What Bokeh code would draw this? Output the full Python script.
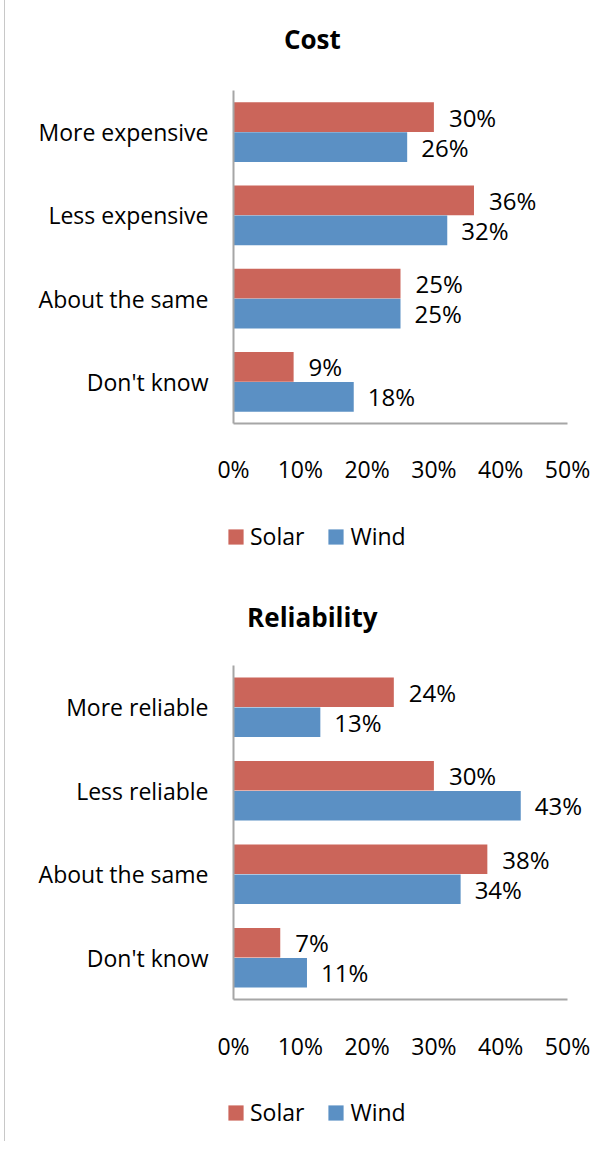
from bokeh.plotting import figure
from bokeh.models import (ColumnDataSource, Range1d, FixedTicker,
                          NumeralTickFormatter, Legend, LegendItem, Label)
from bokeh.layouts import column
from bokeh.embed import file_html
from bokeh.resources import INLINE
from bokeh.core.properties import value

cost_categories = ["More expensive", "Less expensive", "About the same", "Don't know"]
cost_solar = [30, 36, 25, 9]
cost_wind = [26, 32, 25, 18]

rel_categories = ["More reliable", "Less reliable", "About the same", "Don't know"]
rel_solar = [24, 30, 38, 7]
rel_wind = [13, 43, 34, 11]

x_ticks = [0, 10, 20, 30, 40, 50]
series_names = ["Solar", "Wind"]

RED = "#CB655A"
BLUE = "#5B90C4"
AXIS = "#A6A6A6"
FONT = "Open Sans"


def make_chart(title, cats, solar, wind, height, y_lo, y_hi, title_y, legend_y):
    n = len(cats)
    pos = [n - 1 - i for i in range(n)]  # first category on top
    src = ColumnDataSource(dict(
        pos=pos,
        ys=[p_ + 0.18 for p_ in pos],
        yw=[p_ - 0.18 for p_ in pos],
        solar=[v / 100 for v in solar],
        wind=[v / 100 for v in wind],
        solar_lbl=[f"{v}%" for v in solar],
        wind_lbl=[f"{v}%" for v in wind],
    ))
    p = figure(width=586, height=height, output_backend="svg", toolbar_location=None,
               x_range=Range1d(-0.3368, 0.5404), y_range=Range1d(y_lo, y_hi),
               min_border=0)
    p.outline_line_color = None
    p.grid.visible = False
    p.background_fill_color = "white"
    p.border_fill_color = "white"

    r1 = p.hbar(y="ys", right="solar", left=0, height=0.355, source=src,
                color=RED, line_color=None)
    r2 = p.hbar(y="yw", right="wind", left=0, height=0.355, source=src,
                color=BLUE, line_color=None)
    p.text(x="solar", y="ys", text="solar_lbl", source=src, x_offset=15,
           text_baseline="middle", text_font=value(FONT),
           text_font_size="24px", text_color="black")
    p.text(x="wind", y="yw", text="wind_lbl", source=src, x_offset=14,
           text_baseline="middle", text_font=value(FONT),
           text_font_size="24px", text_color="black")

    p.add_layout(Label(x=0.118, y=title_y, text=title, text_font=FONT,
                       text_font_size="26px", text_font_style="bold",
                       text_align="center", text_baseline="middle",
                       text_color="black"))

    xa = p.xaxis[0]
    xa.fixed_location = -0.5
    xa.bounds = (0, 0.5)
    xa.ticker = FixedTicker(ticks=[t / 100 for t in x_ticks])
    xa.formatter = NumeralTickFormatter(format="0%")
    xa.major_tick_line_color = None
    xa.minor_tick_line_color = None
    xa.axis_line_color = AXIS
    xa.axis_line_width = 2
    xa.major_label_standoff = 24
    xa.major_label_text_font = FONT
    xa.major_label_text_font_size = "23px"
    xa.major_label_text_color = "black"

    ya = p.yaxis[0]
    ya.fixed_location = 0
    ya.bounds = (-0.5, n - 0.5)
    ya.ticker = FixedTicker(ticks=pos)
    ya.major_label_overrides = {pos[i]: cats[i] for i in range(n)}
    ya.major_tick_line_color = None
    ya.minor_tick_line_color = None
    ya.axis_line_color = AXIS
    ya.axis_line_width = 2
    ya.major_label_standoff = 19
    ya.major_label_text_font = FONT
    ya.major_label_text_font_size = "23px"
    ya.major_label_text_color = "black"

    legend = Legend(items=[LegendItem(label=series_names[0], renderers=[r1]),
                           LegendItem(label=series_names[1], renderers=[r2])],
                    orientation="horizontal", location=(218, legend_y),
                    glyph_width=19, glyph_height=19, spacing=22,
                    label_text_font=FONT, label_text_font_size="23px",
                    label_text_color="black",
                    label_standoff=5, border_line_color=None,
                    background_fill_alpha=0, padding=0, margin=0)
    p.add_layout(legend, "center")
    return p


p1 = make_chart("Cost", cost_categories, cost_solar, cost_wind,
                height=570, y_lo=-2.362, y_hi=4.485, title_y=4.12, legend_y=26)
p2 = make_chart("Reliability", rel_categories, rel_solar, rel_wind,
                height=563, y_lo=-2.2006, y_hi=4.542, title_y=4.085, legend_y=13)

layout = column(p1, p2, spacing=0,
                styles={"border-left": "1px solid #c8c8c8", "margin-left": "4px",
                        "padding-left": "3px", "padding-top": "8px"})

open("out.html", "w").write(file_html(layout, INLINE))
